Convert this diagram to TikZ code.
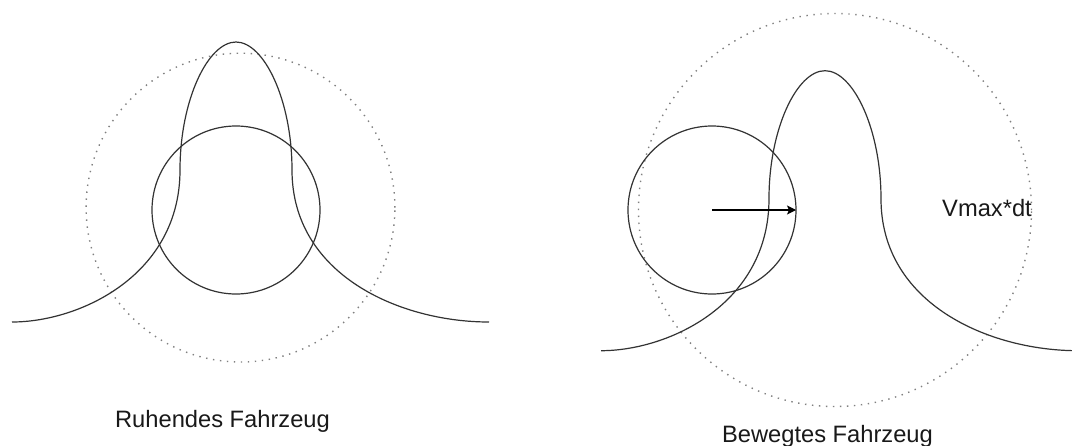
\documentclass[tikz,border=0pt]{standalone}
\usepackage{fontspec}
\setmainfont{Liberation Sans}
\usetikzlibrary{arrows.meta}
\begin{document}
\begin{tikzpicture}[x=1pt,y=-1pt,
  line/.style={line width=1.2pt, draw=black!80},
  dotring/.style={circle, draw=black!50, line width=1.4pt, dash pattern=on 1.4pt off 5.6pt, inner sep=0pt, outer sep=0pt},
  car/.style={circle, line, inner sep=0pt, outer sep=0pt, minimum size=168pt},
  lbl/.style={inner sep=0pt, font=\fontsize{23.7}{28}\selectfont, text=black!90},
  hill/.pic={\draw[line] (12,322) .. controls (80,322) and (180,275) .. (180,170)
     .. controls (180,100) and (208,42) .. (236,42)
     .. controls (264,42) and (292,100) .. (292,170)
     .. controls (292,275) and (400,322) .. (489,322);}
  ]
\useasboundingbox (0,0) rectangle (1072,445);
\fill[white] (0,0) rectangle (1072,445);
\begin{scope}
\clip (0,0) rectangle (1072,445);
% left: vehicle at rest
\node[dotring, minimum size=308.8pt] (range1) at (240.5,207.6) {};
\node[car] (car1) at (236,210) {};
\pic at (0,0) {hill};
% right: moving vehicle
\node[dotring, minimum size=393pt] (range2) at (835,210) {};
\node[car] (car2) at (712,210) {};
\pic at (589,28.7) {hill};
\draw[line width=1.2pt, black, -{Stealth[length=9pt,width=9pt,inset=2pt]}] (car2.center) -- (car2.east);
\end{scope}
\node[lbl, anchor=base] (t1) at (222.5,427) {Ruhendes Fahrzeug};
\node[lbl, anchor=base] (t2) at (827.5,442) {Bewegtes Fahrzeug};
\node[lbl, anchor=base west] (t3) at (942,216.7) {Vmax*dt};
\end{tikzpicture}
\end{document}
